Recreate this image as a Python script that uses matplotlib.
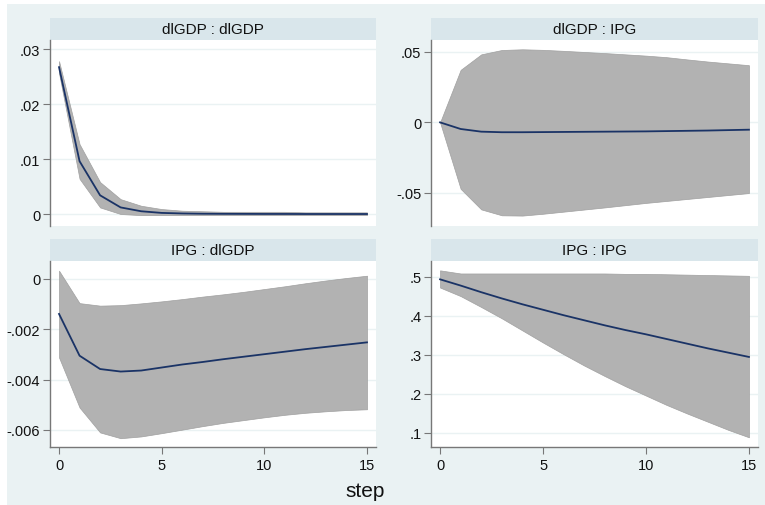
import matplotlib
matplotlib.use("Agg")
import matplotlib.pyplot as plt
from matplotlib.patches import Rectangle

plt.rcParams["font.family"] = ["Liberation Sans", "DejaVu Sans"]

steps = list(range(16))

# dlGDP : dlGDP
gg_irf = [0.0267, 0.0096, 0.0034, 0.0012, 0.0005, 0.0002, 0.0001, 0.00005,
          0.00003, 0.00002, 0.00001, 0.00001, 0.0, 0.0, 0.0, 0.0]
gg_hi = [0.0278, 0.0127, 0.0058, 0.0027, 0.0015, 0.0009, 0.0006, 0.0005,
         0.0004, 0.0004, 0.0004, 0.0004, 0.0003, 0.0003, 0.0003, 0.0003]
gg_lo = [0.0256, 0.0064, 0.0012, 0.0000, -0.0002, -0.0002, -0.0002, -0.0002,
         -0.0002, -0.0002, -0.0002, -0.0002, -0.0002, -0.0002, -0.0002, -0.0002]

# dlGDP : IPG
gi_irf = [0.0, -0.0047, -0.0066, -0.0070, -0.0070, -0.0069, -0.0068, -0.0067,
          -0.0066, -0.0065, -0.0064, -0.0062, -0.0060, -0.0058, -0.0055, -0.0052]
gi_hi = [0.0, 0.0373, 0.0483, 0.0514, 0.0519, 0.0515, 0.0508, 0.0500,
         0.0492, 0.0483, 0.0474, 0.0463, 0.0447, 0.0432, 0.0419, 0.0406]
gi_lo = [0.0, -0.0472, -0.0618, -0.0660, -0.0662, -0.0649, -0.0634, -0.0619,
         -0.0604, -0.0588, -0.0572, -0.0558, -0.0544, -0.0530, -0.0516, -0.0502]

# IPG : dlGDP
ig_irf = [-0.00139, -0.00305, -0.00358, -0.00368, -0.00364, -0.00352, -0.00340,
          -0.00330, -0.00319, -0.00309, -0.00299, -0.00289, -0.00279, -0.00270,
          -0.00261, -0.00252]
ig_hi = [0.00033, -0.00096, -0.00106, -0.00104, -0.00097, -0.00089, -0.00080,
         -0.00070, -0.00061, -0.00051, -0.00040, -0.00029, -0.00017, -0.00006,
         0.00004, 0.00013]
ig_lo = [-0.00312, -0.00511, -0.00610, -0.00633, -0.00626, -0.00613, -0.00599,
         -0.00585, -0.00572, -0.00561, -0.00550, -0.00540, -0.00532, -0.00526,
         -0.00521, -0.00518]

# IPG : IPG
ii_irf = [0.494, 0.478, 0.461, 0.445, 0.430, 0.416, 0.402, 0.389,
          0.376, 0.364, 0.353, 0.341, 0.329, 0.317, 0.306, 0.295]
ii_hi = [0.517, 0.509, 0.509, 0.509, 0.509, 0.509, 0.509, 0.509,
         0.509, 0.508, 0.508, 0.507, 0.506, 0.505, 0.504, 0.503]
ii_lo = [0.473, 0.451, 0.423, 0.394, 0.363, 0.332, 0.302, 0.273,
         0.246, 0.220, 0.196, 0.172, 0.150, 0.129, 0.108, 0.089]

panels = [
    ("dlGDP : dlGDP", gg_irf, gg_lo, gg_hi, [0.0, 0.01, 0.02, 0.03],
     ["0", ".01", ".02", ".03"], (-0.00218, 0.03164)),
    ("dlGDP : IPG", gi_irf, gi_lo, gi_hi, [-0.05, 0.0, 0.05],
     ["-.05", "0", ".05"], (-0.0736, 0.0585)),
    ("IPG : dlGDP", ig_irf, ig_lo, ig_hi, [-0.006, -0.004, -0.002, 0.0],
     ["-.006", "-.004", "-.002", "0"], (-0.00668, 0.000715)),
    ("IPG : IPG", ii_irf, ii_lo, ii_hi, [0.1, 0.2, 0.3, 0.4, 0.5],
     [".1", ".2", ".3", ".4", ".5"], (0.0641, 0.541)),
]
x_ticks = [0, 5, 10, 15]

BG = "#eaf2f3"
STRIP = "#d9e6eb"
BAND = "#b2b2b2"
LINE = "#1a3366"
AXC = "#777777"

W, H = 765, 506
fig = plt.figure(figsize=(W / 100, H / 100), dpi=100)
fig.patches.append(Rectangle((7 / W, 0), 1 - 7 / W, 1 - 5 / H, transform=fig.transFigure,
                             facecolor=BG, edgecolor="none", zorder=-10))

# pixel boxes: left, right, top, bottom of each plot region
boxes = [(50, 376, 41, 227), (431, 758, 41, 227),
         (50, 376, 262, 448), (431, 758, 262, 448)]

for i, ((title, irf, lo, hi, yt, ytl, ylim), (l, r, t, b)) in enumerate(zip(panels, boxes)):
    ax = fig.add_axes([l / W, 1 - b / H, (r - l) / W, (b - t) / H])
    ax.set_facecolor("white")
    ax.fill_between(steps, lo, hi, color=BAND, edgecolor="#a0a0a0", linewidth=0.5, zorder=2)
    ax.plot(steps, irf, color=LINE, linewidth=1.3, zorder=3)
    ax.set_xlim(-0.44, 15.44)
    ax.set_ylim(*ylim)
    ax.set_yticks(yt)
    ax.set_yticklabels(ytl)
    ax.grid(axis="y", color=BG, linewidth=1.0, zorder=0)
    for s in ["top", "right"]:
        ax.spines[s].set_visible(False)
    ax.spines["left"].set_color(AXC)
    ax.spines["left"].set_linewidth(1.0)
    ax.tick_params(axis="y", length=5, width=0.8, color=AXC, labelsize=10.5,
                   labelcolor="#111111", pad=2)
    if i >= 2:
        ax.set_xticks(x_ticks)
        ax.set_xticklabels([str(v) for v in x_ticks])
        ax.spines["bottom"].set_color(AXC)
        ax.spines["bottom"].set_linewidth(1.0)
        ax.tick_params(axis="x", length=5, width=0.8, color=AXC, labelsize=10.5,
                       labelcolor="#111111", pad=3)
    else:
        ax.spines["bottom"].set_visible(False)
        ax.set_xticks([])
    # title strip
    fig.patches.append(Rectangle((l / W, 1 - t / H), (r - l) / W, 22 / H,
                                 transform=fig.transFigure, facecolor=STRIP,
                                 edgecolor="none", zorder=-5))
    fig.text((l + r) / 2 / W, 1 - (t - 11) / H, title, ha="center", va="center",
             fontsize=11, color="#111111")

fig.text(365 / W, 1 - 492 / H, "step", ha="center", va="center", fontsize=15,
         color="#111111")

fig.savefig("out.png", dpi=100)
